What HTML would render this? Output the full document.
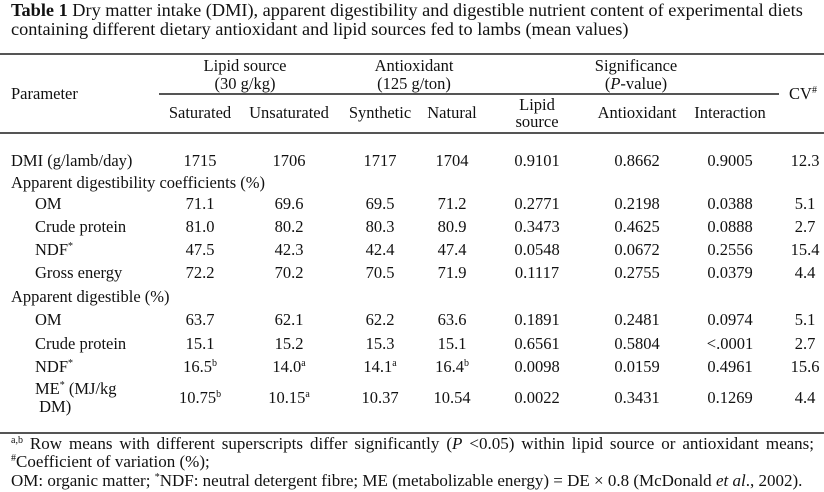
<!DOCTYPE html>
<html><head><meta charset="utf-8"><style>
body{margin:0;background:#fff}
#t{position:relative;width:824px;height:492px;overflow:hidden;font-family:"Liberation Serif",serif;font-size:16.5px;color:#111}
.a{position:absolute;white-space:nowrap;line-height:18px;transform:translate(-50%,-50%)}
.l{position:absolute;white-space:nowrap;line-height:18px;transform:translateY(-50%)}
.r{position:absolute;height:2px;background:#555}
sup{font-size:10px;line-height:0;vertical-align:6px}
</style></head><body>
<div id="t">
<div class="l" style="left:11px;top:10px;font-size:18.3px"><b>Table 1</b> Dry matter intake (DMI), apparent digestibility and digestible nutrient content of experimental diets</div>
<div class="l" style="left:11px;top:29px;font-size:18.3px">containing different dietary antioxidant and lipid sources fed to lambs (mean values)</div>
<div class="r" style="left:0;top:53px;width:824px"></div>
<div class="r" style="left:159px;top:93px;width:620px;height:1.5px"></div>
<div class="r" style="left:0;top:132px;width:824px"></div>
<div class="r" style="left:0;top:432px;width:824px;height:1.5px"></div>
<div class="l" style="left:11px;top:94px">Parameter</div>
<div class="a" style="left:245px;top:75px;text-align:center">Lipid source<br>(30 g/kg)</div>
<div class="a" style="left:414px;top:75px;text-align:center">Antioxidant<br>(125 g/ton)</div>
<div class="a" style="left:636px;top:75px;text-align:center">Significance<br>(<i>P</i>-value)</div>
<div class="a" style="left:803px;top:94px">CV<sup>#</sup></div>
<div class="a" style="left:200px;top:113px">Saturated</div>
<div class="a" style="left:289px;top:113px">Unsaturated</div>
<div class="a" style="left:380px;top:113px">Synthetic</div>
<div class="a" style="left:452px;top:113px">Natural</div>
<div class="a" style="left:537px;top:113px;text-align:center;line-height:17px">Lipid<br>source</div>
<div class="a" style="left:637px;top:113px">Antioxidant</div>
<div class="a" style="left:730px;top:113px">Interaction</div>
<div id="rows"></div>
<div class="l" style="left:11px;top:444px;width:803px;text-align:justify;text-align-last:justify;font-size:17px"><sup>a,b</sup> Row means with different superscripts differ significantly (<i>P</i> &lt;0.05) within lipid source or antioxidant means;</div>
<div class="l" style="left:11px;top:462px;font-size:17px"><sup>#</sup>Coefficient of variation (%);</div>
<div class="l" style="left:11px;top:481px;font-size:17px">OM: organic matter; <sup>*</sup>NDF: neutral detergent fibre; ME (metabolizable energy) = DE × 0.8 (McDonald <i>et al</i>., 2002).</div>
</div>
<script>
const rowLabels=["DMI (g/lamb/day)","Apparent digestibility coefficients (%)","OM","Crude protein","NDF<sup>*</sup>","Gross energy","Apparent digestible (%)","OM","Crude protein","NDF<sup>*</sup>","ME<sup>*</sup> (MJ/kg<br>&nbsp;DM)"];
const rowIndent=[0,0,1,1,1,1,0,1,1,1,1];
const rowY=[161,183,204,227,250,273,297,320,344,367,398];
const saturated=["1715","","71.1","81.0","47.5","72.2","","63.7","15.1","16.5<sup>b</sup>","10.75<sup>b</sup>"];
const unsaturated=["1706","","69.6","80.2","42.3","70.2","","62.1","15.2","14.0<sup>a</sup>","10.15<sup>a</sup>"];
const synthetic=["1717","","69.5","80.3","42.4","70.5","","62.2","15.3","14.1<sup>a</sup>","10.37"];
const natural=["1704","","71.2","80.9","47.4","71.9","","63.6","15.1","16.4<sup>b</sup>","10.54"];
const pLipid=["0.9101","","0.2771","0.3473","0.0548","0.1117","","0.1891","0.6561","0.0098","0.0022"];
const pAntiox=["0.8662","","0.2198","0.4625","0.0672","0.2755","","0.2481","0.5804","0.0159","0.3431"];
const pInter=["0.9005","","0.0388","0.0888","0.2556","0.0379","","0.0974","&lt;.0001","0.4961","0.1269"];
const cv=["12.3","","5.1","2.7","15.4","4.4","","5.1","2.7","15.6","4.4"];
const cols=[[saturated,200,"saturated"],[unsaturated,289,"unsaturated"],[synthetic,380,"synthetic"],[natural,452,"natural"],[pLipid,537,"p-lipid"],[pAntiox,637,"p-antioxidant"],[pInter,730,"p-interaction"],[cv,805,"cv"]];
const root=document.getElementById('rows');
rowLabels.forEach((lab,i)=>{
  const d=document.createElement('div');
  d.className='l';
  d.style.left=(rowIndent[i]?35:11)+'px';
  d.style.top=rowY[i]+'px';
  d.innerHTML=lab;
  
  
  root.appendChild(d);
  cols.forEach(c=>{
    if(!c[0][i])return;
    const e=document.createElement('div');
    e.className='a';
    e.style.left=c[1]+'px';
    e.style.top=rowY[i]+'px';
    e.innerHTML=c[0][i];
    
    
    root.appendChild(e);
  });
});
</script>
</body></html>
